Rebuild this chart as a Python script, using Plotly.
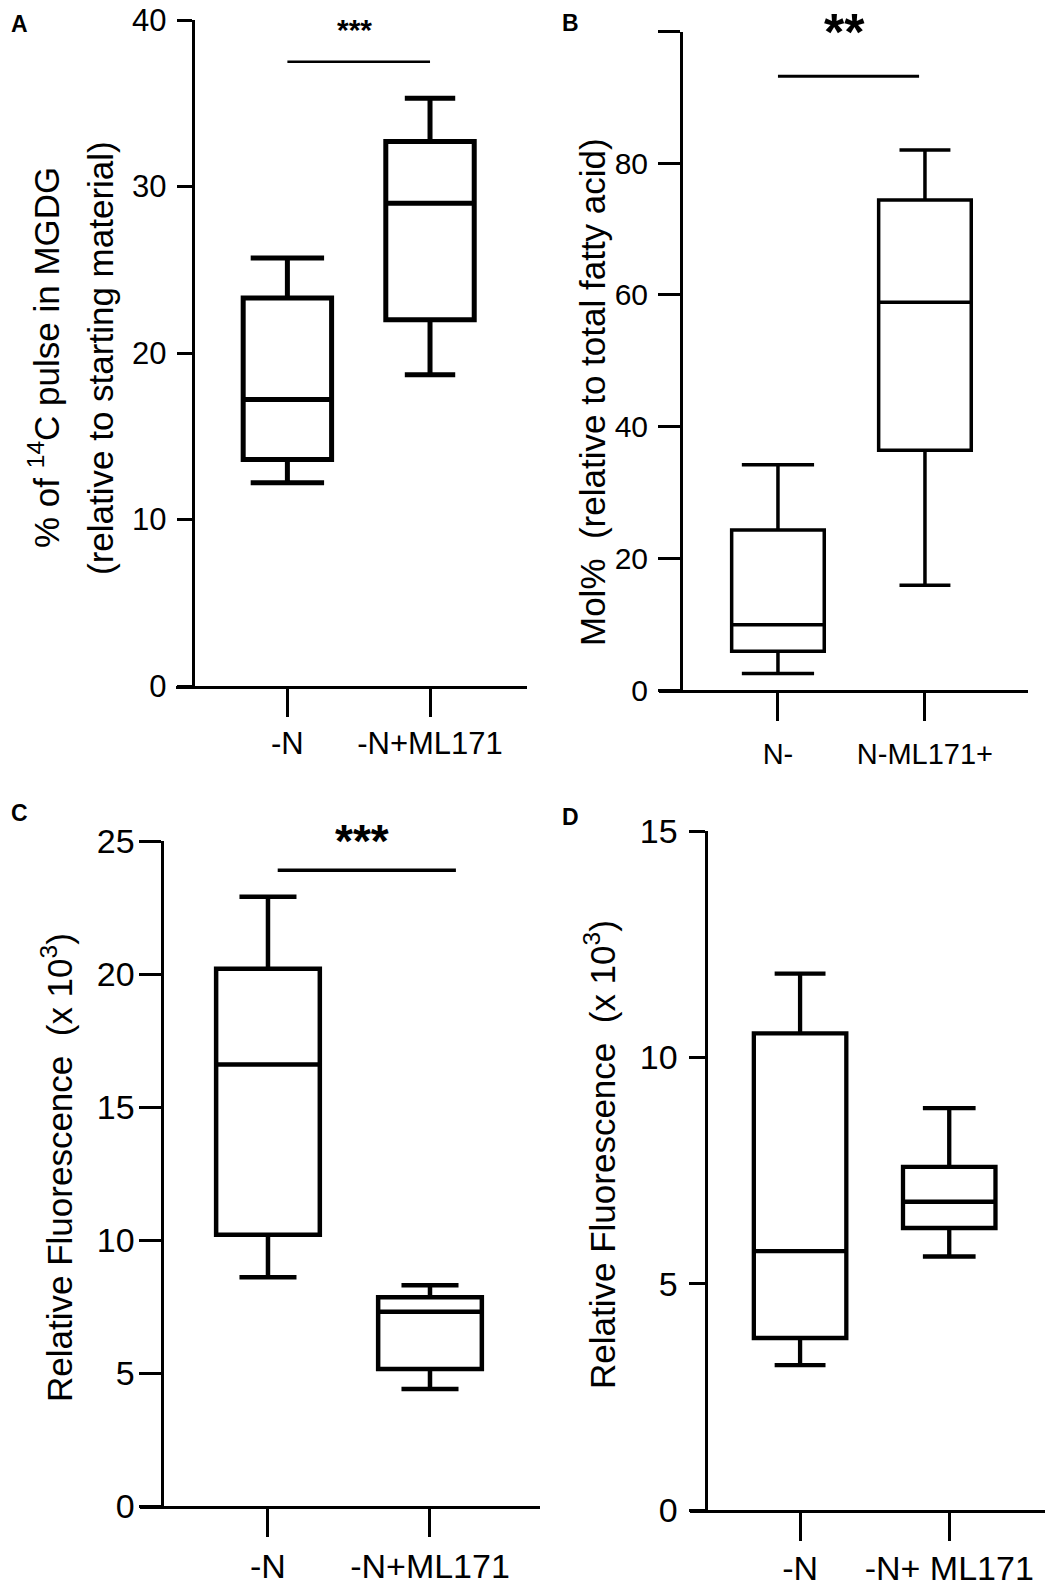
import plotly.graph_objects as go

W, H = 1063, 1589
OFF = 8  # page body margin of the html, compensated below
FW, FH = W - OFF, H - OFF

# ---- data (box summaries: low whisker, Q1, median, Q3, high whisker)
cats_a = ['-N', '-N+ML171']
lo_a = [12.2, 18.7]
q1_a = [13.6, 22.0]
med_a = [17.2, 29.0]
q3_a = [23.3, 32.7]
hi_a = [25.7, 35.3]
sig_span_a = [0.0, 1.0]
sig_level_a = 37.5
stars_a = '***'

cats_b = ['N-', 'N-ML171+']
lo_b = [2.5, 15.9]
q1_b = [5.9, 36.4]
med_b = [9.9, 58.9]
q3_b = [24.3, 74.4]
hi_b = [34.2, 82.0]
sig_span_b = [0.0, 0.96]
sig_level_b = 93.2
stars_b = '**'

cats_c = ['-N', '-N+ML171']
lo_c = [8.6, 4.4]
q1_c = [10.2, 5.15]
med_c = [16.6, 7.3]
q3_c = [20.2, 7.85]
hi_c = [22.9, 8.3]
sig_span_c = [0.06, 1.16]
sig_level_c = 23.9
stars_c = '***'

cats_d = ['-N', '-N+ ML171']
lo_d = [3.2, 5.6]
q1_d = [3.8, 6.23]
med_d = [5.72, 6.81]
q3_d = [10.53, 7.58]
hi_d = [11.85, 8.88]

pos = [0, 1]


def px(x):
    return (x - OFF) / FW


def py(y):
    return 1 - (y - OFF) / FH


FONT = 'Liberation Sans, Arial, sans-serif'
fig = go.Figure()


def add_boxes(n, cats, lo, q1, med, q3, hi, bw, lw, whisk):
    xa = 'x' if n == 1 else 'x%d' % n
    ya = 'y' if n == 1 else 'y%d' % n
    for i in range(len(cats)):
        fig.add_trace(go.Box(x=[pos[i]], lowerfence=[lo[i]], q1=[q1[i]], median=[med[i]],
                             q3=[q3[i]], upperfence=[hi[i]], width=bw, whiskerwidth=whisk[i],
                             line=dict(color='black', width=lw), fillcolor='white',
                             boxpoints=False, xaxis=xa, yaxis=ya, showlegend=False,
                             hoverinfo='skip'))


def add_sig(n, span, level, lw):
    xa = 'x' if n == 1 else 'x%d' % n
    ya = 'y' if n == 1 else 'y%d' % n
    fig.add_trace(go.Scatter(x=span, y=[level, level], mode='lines',
                             line=dict(color='black', width=lw), xaxis=xa, yaxis=ya,
                             showlegend=False, hoverinfo='skip', cliponaxis=False))


add_boxes(1, cats_a, lo_a, q1_a, med_a, q3_a, hi_a, 0.62, 5, [0.83, 0.57])
add_boxes(2, cats_b, lo_b, q1_b, med_b, q3_b, hi_b, 0.63, 3.5, [0.78, 0.55])
add_boxes(3, cats_c, lo_c, q1_c, med_c, q3_c, hi_c, 0.64, 4.5, [0.55, 0.55])
add_boxes(4, cats_d, lo_d, q1_d, med_d, q3_d, hi_d, 0.62, 4.3, [0.55, 0.57])
add_sig(1, sig_span_a, sig_level_a, 2.5)
add_sig(2, sig_span_b, sig_level_b, 3)
add_sig(3, sig_span_c, sig_level_c, 3.5)


def xax(left, right, cats, rng, fs, anchor, so=0):
    return dict(domain=[px(left), px(right)], anchor=anchor, range=rng, tickvals=pos, ticktext=cats,
                showline=True, linecolor='black', linewidth=3, ticks='outside', ticklen=28,
                tickwidth=3, tickcolor='black', tickfont=dict(size=fs, color='black', family=FONT),
                ticklabelstandoff=so, ticklabeloverflow='allow', showgrid=False, zeroline=False,
                fixedrange=True, automargin=False)


def yax(top, bottom, xpos, rng, tv, fs, tl, so=4, minor=None):
    d = dict(domain=[py(bottom), py(top)], anchor='free', position=px(xpos), range=rng,
             tickvals=tv, showline=True, linecolor='black', linewidth=3,
             ticks='outside', ticklen=tl, tickwidth=3, tickcolor='black',
             tickfont=dict(size=fs, color='black', family=FONT), ticklabelstandoff=so,
             ticklabeloverflow='allow', showgrid=False, zeroline=False, fixedrange=True,
             automargin=False)
    if minor:
        d['minor'] = dict(tickvals=minor, ticks='outside', ticklen=tl, tickwidth=3,
                          tickcolor='black', showgrid=False)
    return d


fig.update_layout(
    width=FW, height=FH, margin=dict(l=0, r=0, t=0, b=0, autoexpand=False),
    paper_bgcolor='white', plot_bgcolor='white',
    font=dict(family=FONT, color='black'),
    xaxis=xax(176, 527, cats_a, [-0.781, 1.680], 31, 'y'),
    yaxis=yax(20, 686, 192.7, [0, 40], [0, 10, 20, 30, 40], 31, 15),
    xaxis2=xax(658.6, 1028, cats_b, [-0.812, 1.701], 29, 'y2', so=8),
    yaxis2=yax(31.5, 690, 681, [0, 100], [0, 20, 40, 60, 80], 30, 22, minor=[100]),
    xaxis3=xax(139.5, 540, cats_c, [-0.793, 1.679], 34, 'y3'),
    yaxis3=yax(841, 1506, 161.5, [0, 25], [0, 5, 10, 15, 20, 25], 34, 22, so=-3),
    xaxis4=xax(690, 1045, cats_d, [-0.738, 1.642], 34, 'y4', so=-2),
    yaxis4=yax(831, 1510, 705.5, [0, 15], [0, 5, 10, 15], 34, 16),
)

ann = []
# panel letters
for letter, x, y in [('A', 9, 9), ('B', 560, 8), ('C', 9, 798), ('D', 560, 802)]:
    ann.append(dict(text='<b>%s</b>' % letter, x=px(x), y=py(y), xref='paper', yref='paper',
                    xanchor='left', yanchor='top', showarrow=False, font=dict(size=23)))
# y-axis titles
titles = [
    ('% of <sup>14</sup>C pulse in MGDG', 44, 358),
    ('(relative to starting material)', 100, 358),
    ('Mol%  (relative to total fatty acid)', 592, 392),
    ('Relative Fluorescence  (x 10<sup>3</sup>)', 57, 1168),
    ('Relative Fluorescence  (x 10<sup>3</sup>)', 600, 1155),
]
for t, x, y in titles:
    ann.append(dict(text=t, x=px(x), y=py(y), xref='paper', yref='paper', textangle=-90,
                    xanchor='center', yanchor='middle', showarrow=False, font=dict(size=35)))
# significance stars
ann.append(dict(text='<b>%s</b>' % stars_a, x=0.47, y=39.4, xref='x', yref='y', showarrow=False,
                font=dict(size=30), yanchor='middle'))
ann.append(dict(text='<b>%s</b>' % stars_b, x=0.456, y=100, xref='x2', yref='y2', showarrow=False,
                font=dict(size=52), yanchor='middle', yshift=0))
ann.append(dict(text='<b>%s</b>' % stars_c, x=0.58, y=25.0, xref='x3', yref='y3', showarrow=False,
                font=dict(size=46), yanchor='middle'))
fig.update_layout(annotations=ann)

fig.write_html('out.html')
